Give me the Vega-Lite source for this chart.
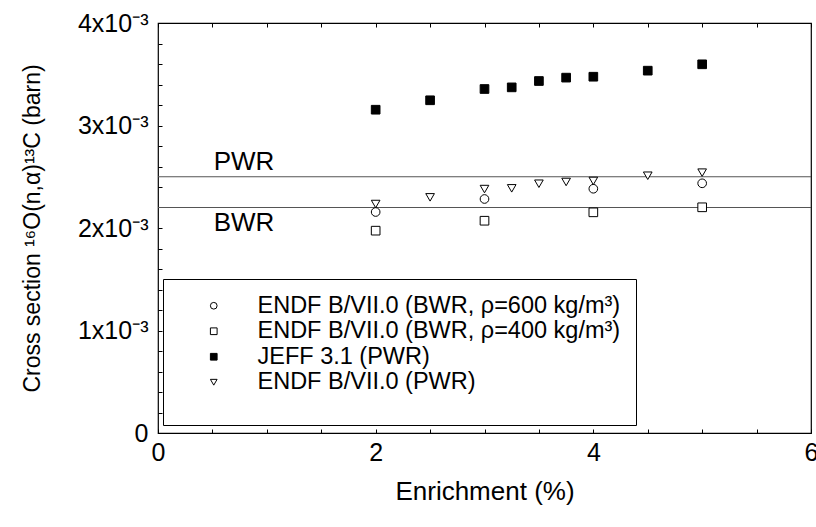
{
  "$schema": "https://vega.github.io/schema/vega-lite/v6.json",
  "width": 653,
  "height": 410,
  "autosize": {"type": "none"},
  "padding": {"left": 158, "top": 23, "right": 5, "bottom": 94},
  "background": "white",
  "config": {
    "view": {"stroke": "black", "strokeWidth": 1.2},
    "font": "Liberation Sans",
    "axis": {"grid": false, "domain": false, "labelOverlap": false, "tickColor": "black", "labelColor": "black", "titleColor": "black", "titleFontWeight": "normal", "labelFont": "Liberation Sans", "titleFont": "Liberation Sans"}
  },
  "datasets": {
    "points": [
      {"series": "ENDF B/VII.0 (BWR, ρ=600 kg/m³)", "x": 2, "y": 0.002156},
      {"series": "ENDF B/VII.0 (BWR, ρ=600 kg/m³)", "x": 3, "y": 0.002283},
      {"series": "ENDF B/VII.0 (BWR, ρ=600 kg/m³)", "x": 4, "y": 0.002383},
      {"series": "ENDF B/VII.0 (BWR, ρ=600 kg/m³)", "x": 5, "y": 0.002436},
      {"series": "ENDF B/VII.0 (BWR, ρ=400 kg/m³)", "x": 2, "y": 0.001974},
      {"series": "ENDF B/VII.0 (BWR, ρ=400 kg/m³)", "x": 3, "y": 0.002071},
      {"series": "ENDF B/VII.0 (BWR, ρ=400 kg/m³)", "x": 4, "y": 0.002153},
      {"series": "ENDF B/VII.0 (BWR, ρ=400 kg/m³)", "x": 5, "y": 0.002202},
      {"series": "JEFF 3.1 (PWR)", "x": 2, "y": 0.003154},
      {"series": "JEFF 3.1 (PWR)", "x": 2.5, "y": 0.003246},
      {"series": "JEFF 3.1 (PWR)", "x": 3, "y": 0.003356},
      {"series": "JEFF 3.1 (PWR)", "x": 3.25, "y": 0.003372},
      {"series": "JEFF 3.1 (PWR)", "x": 3.5, "y": 0.003434},
      {"series": "JEFF 3.1 (PWR)", "x": 3.75, "y": 0.003467},
      {"series": "JEFF 3.1 (PWR)", "x": 4, "y": 0.003476},
      {"series": "JEFF 3.1 (PWR)", "x": 4.5, "y": 0.003535},
      {"series": "JEFF 3.1 (PWR)", "x": 5, "y": 0.003597},
      {"series": "ENDF B/VII.0 (PWR)", "x": 2, "y": 0.002234},
      {"series": "ENDF B/VII.0 (PWR)", "x": 2.5, "y": 0.002299},
      {"series": "ENDF B/VII.0 (PWR)", "x": 3, "y": 0.00238},
      {"series": "ENDF B/VII.0 (PWR)", "x": 3.25, "y": 0.002387},
      {"series": "ENDF B/VII.0 (PWR)", "x": 3.5, "y": 0.002432},
      {"series": "ENDF B/VII.0 (PWR)", "x": 3.75, "y": 0.002449},
      {"series": "ENDF B/VII.0 (PWR)", "x": 4, "y": 0.002459},
      {"series": "ENDF B/VII.0 (PWR)", "x": 4.5, "y": 0.00251},
      {"series": "ENDF B/VII.0 (PWR)", "x": 5, "y": 0.00254}
    ],
    "lines": [
      {"name": "PWR", "y": 0.0025},
      {"name": "BWR", "y": 0.0022}
    ],
    "labels": [
      {"label": "PWR", "x": 0.79, "y": 0.00264},
      {"label": "BWR", "x": 0.79, "y": 0.00205}
    ]
  },
  "resolve": {"axis": {"x": "independent", "y": "independent"}},
  "layer": [
    {
      "data": {"name": "lines"},
      "mark": {"type": "rule", "color": "#555555", "strokeWidth": 1.2},
      "encoding": {
        "y": {
          "field": "y", "type": "quantitative",
          "scale": {"domain": [0, 0.004], "nice": false},
          "axis": {
            "orient": "left",
            "title": "Cross section ¹⁶O(n,α)¹³C (barn)",
            "titleFontSize": 23,
            "titlePadding": 33,
            "values": [0, 0.001, 0.002, 0.003, 0.004],
            "labelExpr": "datum.value == 0 ? '0' : format(round(datum.value * 1000), 'd') + 'x10⁻³'",
            "labelFontSize": 25,
            "labelOverlap": false,
            "tickSize": -4,
            "labelPadding": 14
          }
        }
      }
    },
    {
      "data": {"name": "labels"},
      "mark": {"type": "text", "fontSize": 26, "font": "Liberation Sans", "color": "black", "align": "center", "baseline": "middle"},
      "encoding": {
        "x": {"field": "x", "type": "quantitative", "axis": null},
        "y": {"field": "y", "type": "quantitative", "axis": null},
        "text": {"field": "label"}
      }
    },
    {
      "data": {"name": "points"},
      "mark": {"type": "point", "filled": true, "stroke": "black", "strokeWidth": 1, "size": 75, "opacity": 1},
      "encoding": {
        "x": {
          "field": "x", "type": "quantitative",
          "scale": {"domain": [0, 6], "nice": false},
          "axis": {
            "orient": "bottom",
            "title": "Enrichment (%)",
            "titleFontSize": 26,
            "titlePadding": 13,
            "values": [0, 0.5, 1, 1.5, 2, 2.5, 3, 3.5, 4, 4.5, 5, 5.5, 6],
            "labelExpr": "datum.value % 2 == 0 ? format(datum.value, 'd') : ''",
            "labelFontSize": 25,
            "labelOverlap": false,
            "tickSize": -4,
            "labelPadding": 11,
            "labelFlush": false
          }
        },
        "y": {
          "field": "y", "type": "quantitative", "axis": null
        },
        "shape": {
          "field": "series", "type": "nominal",
          "scale": {
            "domain": ["ENDF B/VII.0 (BWR, ρ=600 kg/m³)", "ENDF B/VII.0 (BWR, ρ=400 kg/m³)", "JEFF 3.1 (PWR)", "ENDF B/VII.0 (PWR)"],
            "range": ["circle", "square", "square", "triangle-down"]
          },
          "legend": {
            "orient": "none",
            "legendX": 5,
            "legendY": 256,
            "title": " ",
            "titleOrient": "bottom",
            "titleFontSize": 10,
            "titlePadding": 6,
            "fillColor": "white",
            "strokeColor": "black",
            "padding": 15,
            "rowPadding": 0.5,
            "labelFontSize": 23.5,
            "labelFont": "Liberation Sans",
            "labelColor": "black",
            "symbolSize": 45,
            "symbolStrokeWidth": 1,
            "symbolOffset": 24,
            "labelOffset": 32,
            "labelLimit": 700
          }
        },
        "fill": {
          "field": "series", "type": "nominal",
          "scale": {
            "domain": ["ENDF B/VII.0 (BWR, ρ=600 kg/m³)", "ENDF B/VII.0 (BWR, ρ=400 kg/m³)", "JEFF 3.1 (PWR)", "ENDF B/VII.0 (PWR)"],
            "range": ["white", "white", "black", "white"]
          },
          "legend": {
            "orient": "none",
            "legendX": 5,
            "legendY": 256,
            "title": " ",
            "titleOrient": "bottom",
            "titleFontSize": 10,
            "titlePadding": 6,
            "fillColor": "white",
            "strokeColor": "black",
            "padding": 15,
            "rowPadding": 0.5,
            "labelFontSize": 23.5,
            "labelFont": "Liberation Sans",
            "labelColor": "black",
            "symbolSize": 45,
            "symbolStrokeWidth": 1,
            "symbolOffset": 24,
            "labelOffset": 32,
            "labelLimit": 700
          }
        },
        "stroke": {
          "field": "series", "type": "nominal",
          "scale": {
            "domain": ["ENDF B/VII.0 (BWR, ρ=600 kg/m³)", "ENDF B/VII.0 (BWR, ρ=400 kg/m³)", "JEFF 3.1 (PWR)", "ENDF B/VII.0 (PWR)"],
            "range": ["black", "black", "black", "black"]
          },
          "legend": {
            "orient": "none",
            "legendX": 5,
            "legendY": 256,
            "title": " ",
            "titleOrient": "bottom",
            "titleFontSize": 10,
            "titlePadding": 6,
            "fillColor": "white",
            "strokeColor": "black",
            "padding": 15,
            "rowPadding": 0.5,
            "labelFontSize": 23.5,
            "labelFont": "Liberation Sans",
            "labelColor": "black",
            "symbolSize": 45,
            "symbolStrokeWidth": 1,
            "symbolOffset": 24,
            "labelOffset": 32,
            "labelLimit": 700
          }
        }
      }
    },
    {
      "data": {"name": "points"},
      "mark": {"type": "point", "opacity": 0},
      "encoding": {
        "x": {
          "field": "x", "type": "quantitative",
          "axis": {
            "orient": "top",
            "title": null,
            "values": [0, 0.5, 1, 1.5, 2, 2.5, 3, 3.5, 4, 4.5, 5, 5.5, 6],
            "labels": false,
            "tickSize": -4
          }
        },
        "y": {
          "field": "y", "type": "quantitative",
          "axis": {
            "orient": "left",
            "title": null,
            "values": [0.0002, 0.0004, 0.0006, 0.0008, 0.0012, 0.0014, 0.0016, 0.0018, 0.0022, 0.0024, 0.0026, 0.0028, 0.0032, 0.0034, 0.0036, 0.0038],
            "labels": false,
            "tickSize": -4,
            "offset": 0
          }
        }
      }
    }
  ]
}
